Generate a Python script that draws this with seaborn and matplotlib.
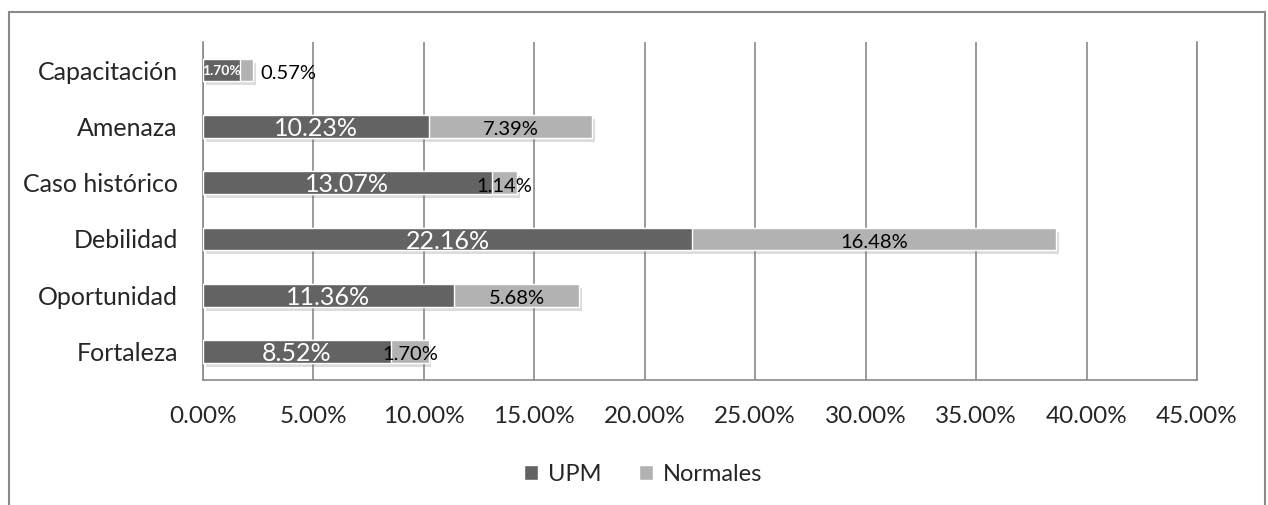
import pandas as pd
import matplotlib.pyplot as plt
import matplotlib.patheffects as pe
from matplotlib.patches import Rectangle, Patch
import seaborn as sns

#Categories and values (percent)
categorias = ['Capacitación', 'Amenaza', 'Caso histórico', 'Debilidad', 'Oportunidad', 'Fortaleza']
upm = [1.70, 10.23, 13.07, 22.16, 11.36, 8.52]
normales = [0.57, 7.39, 1.14, 16.48, 5.68, 1.70]
x_ticks = [0, 5, 10, 15, 20, 25, 30, 35, 40, 45]

df = pd.DataFrame({'categoria': categorias, 'UPM': upm, 'Normales': normales})
df['Total'] = df['UPM'] + df['Normales']

sns.set_style('white')
plt.rcParams['font.family'] = ['Lato', 'DejaVu Sans']

color_upm = '#636363'
color_norm = '#b2b2b2'
grid_color = '#8a8a8a'

fig = plt.figure(figsize=(12.68, 5.05), dpi=100)
ax = fig.add_axes([0.160, 0.248, 0.784, 0.669])

#Stacked bars: total first (Normales color), then UPM on top
sns.barplot(data=df, x='Total', y='categoria', color=color_norm, width=0.4, ax=ax,
            edgecolor='white', linewidth=1.0, zorder=3)
for p in ax.patches:
    p.set_path_effects([pe.SimplePatchShadow(offset=(2, -3), alpha=0.25, shadow_rgbFace='#777777'), pe.Normal()])
sns.barplot(data=df, x='UPM', y='categoria', color=color_upm, width=0.4, ax=ax,
            edgecolor='white', linewidth=1.0, zorder=4)

#Labels
for i, row in df.iterrows():
    if row['UPM'] < 3:
        ax.text(row['UPM'] / 2, i + 0.02, f"{row['UPM']:.2f}%", ha='center', va='center',
                color='white', fontsize=10, fontweight='bold', zorder=6)
    else:
        ax.text(row['UPM'] / 2, i + 0.04, f"{row['UPM']:.2f}%", ha='center', va='center',
                color='white', fontsize=18, zorder=6)
    cx = row['UPM'] + row['Normales'] / 2
    if row['Normales'] < 1:
        cx = row['Total'] + 1.6
    ax.text(cx, i + 0.06, f"{row['Normales']:.2f}%", ha='center', va='center',
            color='black', fontsize=14.5, zorder=6)

ax.set_xlim(0, 45)
ax.set_ylim(len(categorias) - 0.5, -0.5)
ax.set_xticks(x_ticks)
ax.set_xticklabels([f"{t:.2f}%" for t in x_ticks], fontsize=17.5)
ax.tick_params(axis='y', labelsize=18, pad=18, length=0)
ax.tick_params(axis='x', pad=19, length=0)
ax.set_xlabel('')
ax.set_ylabel('')
ax.xaxis.grid(True, color=grid_color, linewidth=1.2, zorder=0)
ax.set_axisbelow(True)
for s in ['left', 'bottom', 'right']:
    ax.spines[s].set_visible(True)
    ax.spines[s].set_color(grid_color)
    ax.spines[s].set_linewidth(1.2)
ax.spines['top'].set_visible(False)

#Legend
handles = [Patch(facecolor=color_upm, label='UPM'), Patch(facecolor=color_norm, label='Normales')]
fig.legend(handles=handles, loc='center', bbox_to_anchor=(0.507, 0.06), ncol=2, frameon=False,
           fontsize=17, handlelength=0.6, handleheight=0.6, handletextpad=0.4, columnspacing=1.6)

#Outer chart border
fig.patches.append(Rectangle((9 / 1268, -0.05), (1265 - 9) / 1268, 1.05 - 12 / 505,
                             transform=fig.transFigure, fill=False, edgecolor=grid_color, linewidth=1.5))

fig.savefig('out.png', dpi=100)
